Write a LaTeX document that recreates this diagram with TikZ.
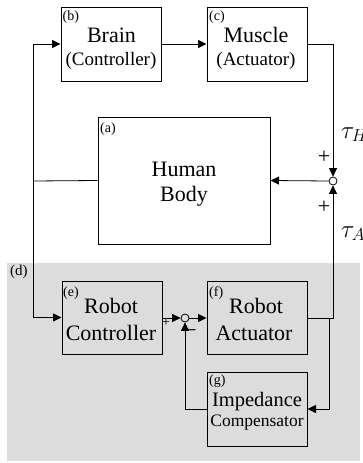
\documentclass[tikz,border=0pt]{standalone}
\usepackage{fontspec}
\setmainfont{Liberation Serif}
\usetikzlibrary{arrows.meta}
\definecolor{bggray}{HTML}{DCDCDC}
\begin{document}
\begin{tikzpicture}[x=1pt,y=-1pt,
  blk/.style={draw, line width=1pt, minimum width=100pt, minimum height=74pt, inner sep=0pt},
  lbl/.style={anchor=base west, inner sep=0pt, font=\fontsize{14}{14}\selectfont},
  big/.style={anchor=base, inner sep=0pt, font=\fontsize{22}{22}\selectfont},
  mid/.style={anchor=base, inner sep=0pt, font=\fontsize{19}{19}\selectfont},
  wire/.style={line width=0.8pt},
  arr/.style={wire, -{Triangle[length=8.5pt,width=8pt]}},
  sumc/.style={circle, draw, line width=0.8pt, minimum size=8pt, inner sep=0pt},
  sgn/.style={inner sep=0pt, font=\fontsize{22}{22}\selectfont},
  tau/.style={anchor=base west, inner sep=0pt, font=\fontsize{25}{25}\selectfont}
]
\useasboundingbox (0,0) rectangle (363,463);
\fill[bggray] (7,263) rectangle (360,461);

% blocks
\node[blk] (brain) at (111,44) {};
\node[blk] (muscle) at (257,44) {};
\node[blk, minimum width=172pt, minimum height=127pt] (body) at (184,180.5) {};
\node[blk, minimum height=73pt] (ctrl) at (112,317.5) {};
\node[blk, minimum height=73pt] (act) at (257,317.5) {};
\node[blk] (imp) at (257,409) {};

% texts
\node[big] (brainT) at (111.5,42) {Brain};
\node[mid] (brainS) at (111,65) {(Controller)};
\node[big] (muscleT) at (256,42) {Muscle};
\node[mid] (muscleS) at (256,65) {(Actuator)};
\node[big] (bodyT) at (184,176) {Human};
\node[big] (bodyS) at (184,201.5) {Body};
\node[big] (ctrlT) at (111,313) {Robot};
\node[big] (ctrlS) at (111,340) {Controller};
\node[big] (actT) at (256,313) {Robot};
\node[big] (actS) at (254,340) {Actuator};
\node[big, font=\fontsize{20.5}{20.5}\selectfont] (impT) at (257,406.5) {Impedance};
\node[big, font=\fontsize{17.5}{17.5}\selectfont] (impS) at (257,426.5) {Compensator};

% labels
\node[lbl] (la) at (100,132.5) {(a)};
\node[lbl] (lb) at (62.5,20) {(b)};
\node[lbl] (lc) at (209,20) {(c)};
\node[lbl, font=\fontsize{15}{15}\selectfont] (ld) at (10,275.5) {(d)};
\node[lbl] (le) at (63,296) {(e)};
\node[lbl] (lf) at (209,296) {(f)};
\node[lbl] (lg) at (209,384) {(g)};

% summing junctions
\node[sumc] (sumH) at (333,181) {};
\node[sumc] (sumR) at (185,318) {};

% coordinates
\coordinate (lv) at (33,181);
\coordinate (br) at (329,318);

% connectors
\draw[arr] (brain.east) -- (muscle.west);
\draw[arr] (muscle.east) -| (sumH.north);
\draw[arr] (sumH.west) -- (body.east);
\draw[wire] (body.west) -- (lv);
\draw[arr] (lv) |- (brain.west);
\draw[arr] (lv) |- (ctrl.west);
\draw[arr] (ctrl.east |- sumR) -- (sumR.west);
\draw[arr] (sumR.east) -- (act.west |- sumR);
\draw[arr] (act.east |- sumR) -| (sumH.south);
\draw[arr] (br) |- (imp.east);
\draw[arr] (imp.west) -| (sumR.south);

% signs
\node[sgn] (pH) at (324,157) {+};
\node[sgn] (pA) at (324,207) {+};
\node[sgn, font=\fontsize{14}{14}\selectfont] (pR) at (166,323) {+};
\node[sgn, font=\fontsize{16}{16}\bfseries] (mR) at (192,333) {−};

% torques
\node[tau] (tH) at (341,138) {$\tau_H$};
\node[tau] (tA) at (341,237) {$\tau_A$};
\end{tikzpicture}
\end{document}
